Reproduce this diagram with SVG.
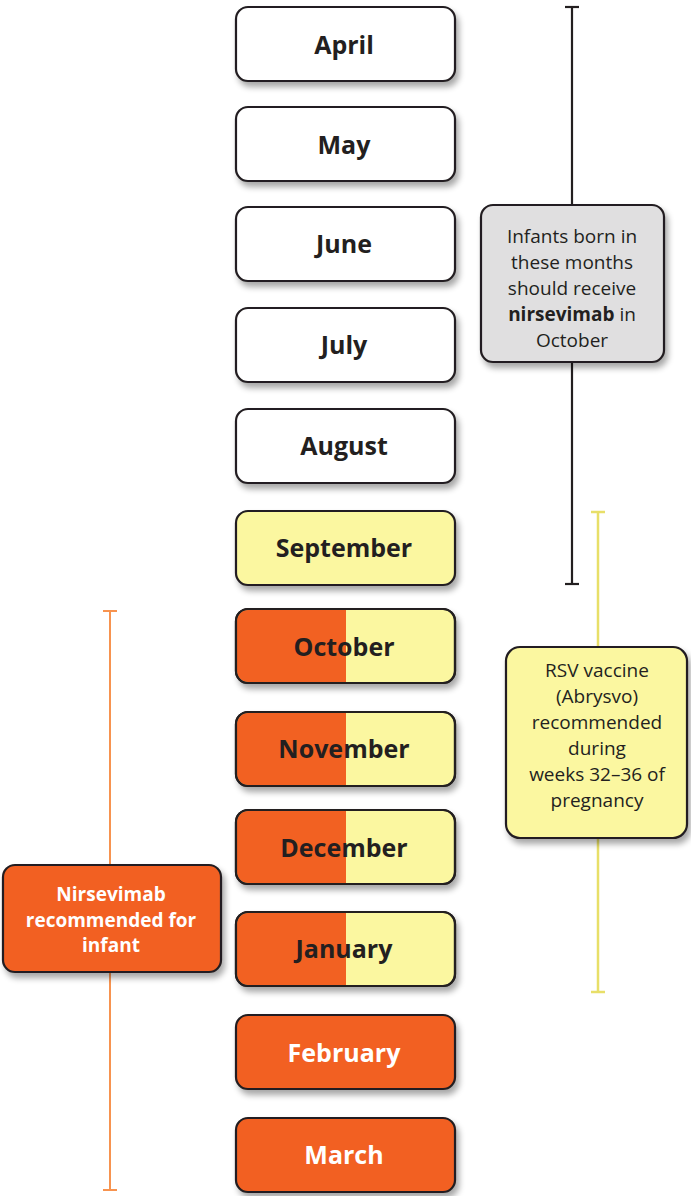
<svg xmlns="http://www.w3.org/2000/svg" width="691" height="1196" viewBox="0 0 691 1196">
<defs>
<filter id="sh" x="-10%" y="-20%" width="130%" height="160%">
<feGaussianBlur in="SourceAlpha" stdDeviation="3"/>
<feOffset dx="3" dy="5"/>
<feComponentTransfer><feFuncA type="linear" slope="0.35"/></feComponentTransfer>
<feMerge><feMergeNode/><feMergeNode in="SourceGraphic"/></feMerge>
</filter>
<clipPath id="c1"><rect x="236" y="0" width="110" height="1196"/></clipPath>
</defs>
<style>
.box{stroke:#231f20;stroke-width:2.2}
.w{fill:#ffffff}
.y{fill:#fbf7a0}
.o{fill:#f26122}
.g{fill:#e0dfe0}
.m{font-family:"Open Sans","Noto Sans",sans-serif;font-weight:bold;font-size:25px;fill:#231f20;text-anchor:middle}
.mw{fill:#ffffff}
.n{font-family:"Open Sans","Noto Sans",sans-serif;font-size:19px;fill:#231f20;text-anchor:middle}
.nb{font-family:"Open Sans","Noto Sans",sans-serif;font-size:19px;font-weight:bold;fill:#ffffff;text-anchor:middle}
</style>
<g id="connectors" fill="none">
<g stroke="#231f20" stroke-width="2.2"><line x1="572" y1="7" x2="572" y2="584"/><line x1="565" y1="7" x2="579" y2="7"/><line x1="565" y1="584" x2="579" y2="584"/></g>
<g stroke="#e8df68" stroke-width="2.5"><line x1="598" y1="512" x2="598" y2="992"/><line x1="591" y1="512" x2="605" y2="512"/><line x1="591" y1="992" x2="605" y2="992"/></g>
<g stroke="#f7934f" stroke-width="2"><line x1="110" y1="611" x2="110" y2="1190"/><line x1="103" y1="611" x2="117" y2="611"/><line x1="103" y1="1190" x2="117" y2="1190"/></g>
</g>
<g id="april"><rect class="box w" x="236" y="7" width="219" height="74" rx="12" filter="url(#sh)"/><text class="m" x="344" y="54">April</text></g>
<g id="may"><rect class="box w" x="236" y="107" width="219" height="74" rx="12" filter="url(#sh)"/><text class="m" x="344" y="154">May</text></g>
<g id="june"><rect class="box w" x="236" y="207" width="219" height="74" rx="12" filter="url(#sh)"/><text class="m" x="344" y="253">June</text></g>
<g id="july"><rect class="box w" x="236" y="308" width="219" height="74" rx="12" filter="url(#sh)"/><text class="m" x="344" y="354">July</text></g>
<g id="august"><rect class="box w" x="236" y="409" width="219" height="74" rx="12" filter="url(#sh)"/><text class="m" x="344" y="455">August</text></g>
<g id="september"><rect class="box y" x="236" y="511" width="219" height="74" rx="12" filter="url(#sh)"/><text class="m" x="344" y="557">September</text></g>
<g id="october"><rect class="box y" x="236" y="609" width="219" height="74" rx="12" filter="url(#sh)"/><rect class="o" x="237" y="610" width="160" height="72" rx="11" clip-path="url(#c1)"/><rect class="box" fill="none" x="236" y="609" width="219" height="74" rx="12"/><text class="m" x="344" y="656">October</text></g>
<g id="november"><rect class="box y" x="236" y="712" width="219" height="74" rx="12" filter="url(#sh)"/><rect class="o" x="237" y="713" width="160" height="72" rx="11" clip-path="url(#c1)"/><rect class="box" fill="none" x="236" y="712" width="219" height="74" rx="12"/><text class="m" x="344" y="758">November</text></g>
<g id="december"><rect class="box y" x="236" y="810" width="219" height="74" rx="12" filter="url(#sh)"/><rect class="o" x="237" y="811" width="160" height="72" rx="11" clip-path="url(#c1)"/><rect class="box" fill="none" x="236" y="810" width="219" height="74" rx="12"/><text class="m" x="344" y="857">December</text></g>
<g id="january"><rect class="box y" x="236" y="912" width="219" height="74" rx="12" filter="url(#sh)"/><rect class="o" x="237" y="913" width="160" height="72" rx="11" clip-path="url(#c1)"/><rect class="box" fill="none" x="236" y="912" width="219" height="74" rx="12"/><text class="m" x="344" y="958">January</text></g>
<g id="february"><rect class="box o" x="236" y="1015" width="219" height="74" rx="12" filter="url(#sh)"/><text class="m mw" x="344" y="1062">February</text></g>
<g id="march"><rect class="box o" x="236" y="1118" width="219" height="74" rx="12" filter="url(#sh)"/><text class="m mw" x="344" y="1164">March</text></g>
<g id="note-nirsevimab-october"><rect class="box g" x="481" y="205" width="183" height="157" rx="12" filter="url(#sh)"/>
<text class="n" x="572" y="243">Infants born in</text>
<text class="n" x="572" y="269">these months</text>
<text class="n" x="572" y="295">should receive</text>
<text class="n" x="572" y="321"><tspan font-weight="bold">nirsevimab</tspan> in</text>
<text class="n" x="572" y="347">October</text></g>
<g id="note-vaccine"><rect class="box y" x="506" y="647" width="181" height="191" rx="14" filter="url(#sh)"/>
<text class="n" x="597" y="677">RSV vaccine</text>
<text class="n" x="597" y="703">(Abrysvo)</text>
<text class="n" x="597" y="729">recommended</text>
<text class="n" x="597" y="755">during</text>
<text class="n" x="597" y="781">weeks 32–36 of</text>
<text class="n" x="597" y="807">pregnancy</text></g>
<g id="note-nirsevimab-infant"><rect class="box o" x="3" y="865" width="218" height="107" rx="12" filter="url(#sh)"/>
<text class="nb" x="111" y="901">Nirsevimab</text>
<text class="nb" x="111" y="927">recommended for</text>
<text class="nb" x="111" y="952">infant</text></g>
</svg>
